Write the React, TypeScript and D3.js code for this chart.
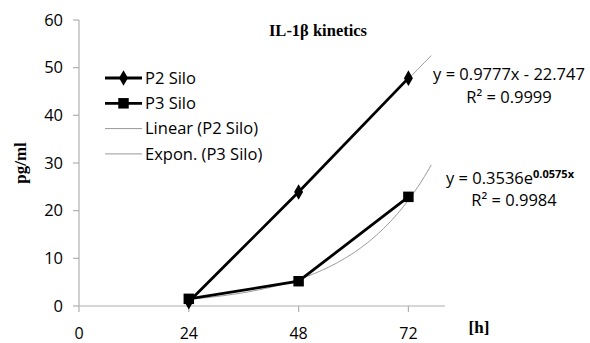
import React from "react"
import * as d3 from "d3"

const hours = [24, 48, 72]
const p2Silo = [0.9, 23.9, 47.8]
const p3Silo = [1.5, 5.2, 22.9]
const yTicks = [0, 10, 20, 30, 40, 50, 60]
const xTicks = [0, 24, 48, 72]
// trend line fits as printed on the chart
const linSlope = 0.9777
const linIntercept = -22.747
const expA = 0.3536
const expB = 0.0575
const trendEnd = 77

const W = 590
const H = 343
const sans = "'Open Sans', 'Noto Sans', sans-serif"
const serif = "'Liberation Serif', 'DejaVu Serif', serif"

export default function App() {
  const x = d3.scaleLinear().domain([0, 80]).range([79, 445])
  const y = d3.scaleLinear().domain([0, 60]).range([306, 20])

  const line = d3
    .line<number>()
    .x((d, i) => x(hours[i]))
    .y(d => y(d))

  const trendXs = d3.range(hours[0], trendEnd + 0.01, 0.5)
  const linTrend = d3
    .line<number>()
    .x(d => x(d))
    .y(d => y(linSlope * d + linIntercept))
  const expTrend = d3
    .line<number>()
    .x(d => x(d))
    .y(d => y(expA * Math.exp(expB * d)))

  const diamond = d3.symbol(d3.symbolDiamond, 70)()
  const square = d3.symbol(d3.symbolSquare, 110)()

  const legend = [
    { label: "P2 Silo", kind: "p2" },
    { label: "P3 Silo", kind: "p3" },
    { label: "Linear (P2 Silo)", kind: "trend" },
    { label: "Expon. (P3 Silo)", kind: "trend" },
  ]

  return (
    <svg width={W} height={H} style={{ position: "absolute", left: 0, top: 0, background: "#fff" }}>
      {/* axes */}
      <line x1={x(0)} x2={x(0)} y1={y(0)} y2={y(60)} stroke="#b0b0b0" strokeWidth={1.2} />
      <line x1={x(0)} x2={x(80)} y1={y(0)} y2={y(0)} stroke="#b0b0b0" strokeWidth={1.2} />
      {yTicks.map(t => (
        <g key={t}>
          <line x1={x(0) - 6} x2={x(0)} y1={y(t)} y2={y(t)} stroke="#b0b0b0" strokeWidth={1.2} />
          <text x={x(0) - 16} y={y(t)} dy="0.35em" textAnchor="end" fontFamily={sans} fontSize={16.5} fill="#000">
            {t}
          </text>
        </g>
      ))}
      {xTicks.map(t => (
        <g key={t}>
          <line x1={x(t)} x2={x(t)} y1={y(0)} y2={y(0) + 6} stroke="#b0b0b0" strokeWidth={1.2} />
          <text x={x(t)} y={339} textAnchor="middle" fontFamily={sans} fontSize={16} fill="#000">
            {t}
          </text>
        </g>
      ))}

      {/* trend lines */}
      <path d={linTrend(trendXs) || ""} fill="none" stroke="#999" strokeWidth={1} />
      <path d={expTrend(trendXs) || ""} fill="none" stroke="#999" strokeWidth={1} />

      {/* series */}
      <path d={line(p2Silo) || ""} fill="none" stroke="#000" strokeWidth={2.8} />
      <path d={line(p3Silo) || ""} fill="none" stroke="#000" strokeWidth={2.8} />
      {p2Silo.map((v, i) => (
        <path key={"d" + i} d={diamond || ""} transform={`translate(${x(hours[i])},${y(v)})`} fill="#000" />
      ))}
      {p3Silo.map((v, i) => (
        <path key={"s" + i} d={square || ""} transform={`translate(${x(hours[i])},${y(v)})`} fill="#000" />
      ))}

      {/* title and axis labels */}
      <text x={318} y={30} dy="0.35em" textAnchor="middle" fontFamily={serif} fontWeight="bold" fontSize={16.5}>
        IL-1β kinetics
      </text>
      <text
        transform="translate(20,163) rotate(-90)"
        dy="0.35em"
        textAnchor="middle"
        fontFamily={serif}
        fontWeight="bold"
        fontSize={17}
      >
        pg/ml
      </text>
      <text x={479} y={327} dy="0.35em" textAnchor="middle" fontFamily={serif} fontWeight="bold" fontSize={17}>
        [h]
      </text>

      {/* legend */}
      {legend.map((d, i) => {
        const ly = 78 + i * 25.3
        return (
          <g key={d.label}>
            <line
              x1={105}
              x2={142}
              y1={ly}
              y2={ly}
              stroke={d.kind === "trend" ? "#999" : "#000"}
              strokeWidth={d.kind === "trend" ? 1 : 2.8}
            />
            {d.kind === "p2" && <path d={diamond || ""} transform={`translate(123.5,${ly})`} fill="#000" />}
            {d.kind === "p3" && <path d={square || ""} transform={`translate(123.5,${ly})`} fill="#000" />}
            <text x={145} y={ly} dy="0.35em" fontFamily={sans} fontSize={16.5} fill="#000">
              {d.label}
            </text>
          </g>
        )
      })}

      {/* fit equations */}
      <text x={509} y={74} dy="0.35em" textAnchor="middle" fontFamily={sans} fontSize={16.5}>
        y = 0.9777x - 22.747
      </text>
      <text x={509} y={97} dy="0.35em" textAnchor="middle" fontFamily={sans} fontSize={16.5}>
        R² = 0.9999
      </text>
      <text x={446} y={178} dy="0.35em" fontFamily={sans} fontSize={16.5}>
        y = 0.3536e<tspan fontSize={11} fontWeight="bold" dy="-6">0.0575x</tspan>
      </text>
      <text x={514} y={200} dy="0.35em" textAnchor="middle" fontFamily={sans} fontSize={16.5}>
        R² = 0.9984
      </text>
    </svg>
  )
}
